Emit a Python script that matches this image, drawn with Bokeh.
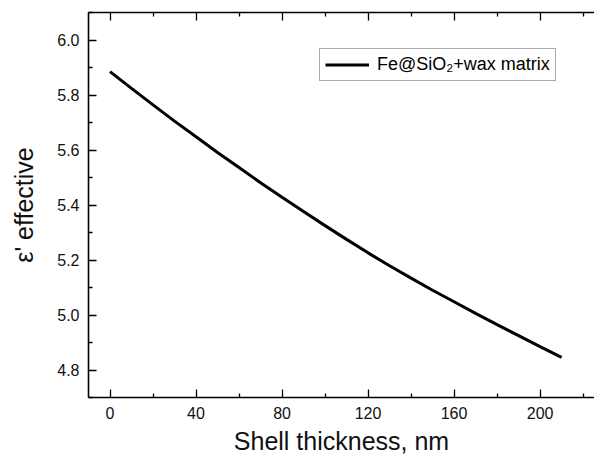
from bokeh.plotting import figure
from bokeh.models import LinearAxis, Legend, LegendItem, Range1d, FixedTicker
from bokeh.embed import file_html
from bokeh.resources import INLINE

# Data
shell_nm = [0, 10, 20, 30, 40, 50, 60, 70, 80, 90, 100, 110, 120, 130, 140,
            150, 160, 170, 180, 190, 200, 210]
eps_eff = [5.885, 5.824, 5.764, 5.705, 5.648, 5.591, 5.536, 5.481, 5.428, 5.376,
           5.325, 5.275, 5.226, 5.179, 5.134, 5.090, 5.048, 5.006, 4.965, 4.925,
           4.885, 4.846]
series_label = "Fe@SiO\u2082+wax matrix"
x_major = [0, 40, 80, 120, 160, 200]
x_minor = [20, 60, 100, 140, 180, 220]
y_major = [4.8, 5.0, 5.2, 5.4, 5.6, 5.8, 6.0]
y_minor = [4.7, 4.9, 5.1, 5.3, 5.5, 5.7, 5.9, 6.1]

FONT = "Liberation Sans"

p = figure(frame_width=506, frame_height=385,
           x_range=Range1d(-10, 225.3), y_range=Range1d(4.7, 6.1),
           output_backend="svg", toolbar_location=None,
           x_axis_location=None, y_axis_location=None,
           min_border_left=88, min_border_right=0, min_border_top=12,
           min_border_bottom=58)
p.outline_line_color = None
p.xgrid.visible = False
p.ygrid.visible = False
p.background_fill_color = "white"
p.border_fill_color = "white"

def style(ax):
    ax.axis_line_color = "black"
    ax.axis_line_width = 1.6
    ax.major_tick_in = 8
    ax.major_tick_out = 0
    ax.minor_tick_in = 4
    ax.minor_tick_out = 0
    ax.major_tick_line_color = "black"
    ax.major_tick_line_width = 1.3
    ax.minor_tick_line_color = "black"
    ax.minor_tick_line_width = 1.3
    ax.major_label_text_font = FONT
    ax.major_label_text_font_size = "16px"
    ax.major_label_text_color = "#111111"
    ax.axis_label_text_font = FONT
    ax.axis_label_text_font_size = "25px"
    ax.axis_label_text_font_style = "normal"
    ax.axis_label_text_color = "#111111"

xb = LinearAxis(ticker=FixedTicker(ticks=x_major, minor_ticks=x_minor),
                axis_label="Shell thickness, nm")
style(xb)
xb.major_label_standoff = 9
xb.axis_label_standoff = 5
p.add_layout(xb, "below")

# top spine: long ticks at the major positions, short ones between (no labels)
xt1 = LinearAxis(ticker=FixedTicker(ticks=[], minor_ticks=x_major))
style(xt1)
xt1.minor_tick_in = 8
p.add_layout(xt1, "above")
xt2 = LinearAxis(ticker=FixedTicker(ticks=[], minor_ticks=x_minor))
style(xt2)
xt2.axis_line_color = None
p.add_layout(xt2, "above")

yl = LinearAxis(ticker=FixedTicker(ticks=y_major, minor_ticks=y_minor),
                axis_label="\u03b5' effective")
style(yl)
yl.major_label_standoff = 9
yl.axis_label_standoff = 16
yl.major_label_overrides = {v: f"{v:.1f}" for v in y_major}
p.add_layout(yl, "left")

r = p.line(shell_nm, eps_eff, line_color="black", line_width=3)

legend = Legend(items=[LegendItem(label=series_label, renderers=[r])],
                location=(231, 316))
legend.border_line_color = "#555555"
legend.border_line_width = 1
legend.padding = 5
legend.margin = 0
legend.spacing = 0
legend.glyph_width = 44
legend.glyph_height = 19
legend.label_height = 19
legend.label_standoff = 8
legend.label_text_font = FONT
legend.label_text_font_size = "18px"
legend.label_text_color = "black"
legend.background_fill_color = "white"
p.add_layout(legend, "center")

open("out.html", "w").write(file_html(p, INLINE))
